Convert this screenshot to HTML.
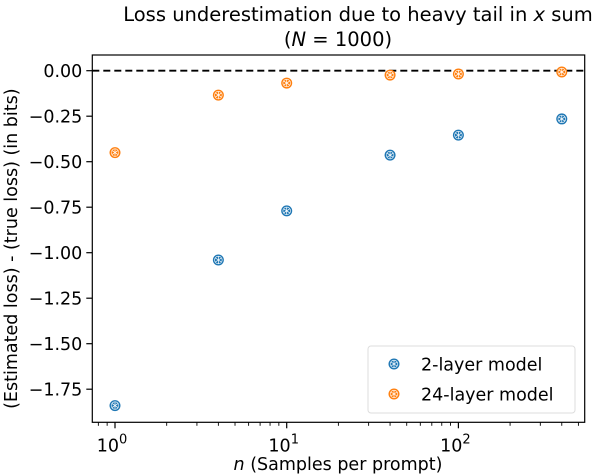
<!DOCTYPE html>
<html><head><meta charset="utf-8"><style>
body{margin:0;background:#fff;}
svg{display:block;font-family:"DejaVu Sans","Liberation Sans",sans-serif;}
</style></head><body>
<svg id="c" width="608" height="476"></svg>
<script>
const ns="http://www.w3.org/2000/svg";
const nVals=[1,4,10,40,100,400];
const twoLayer=[-1.84,-1.04,-0.77,-0.464,-0.354,-0.265];
const twentyFour=[-0.45,-0.134,-0.068,-0.024,-0.018,-0.007];
const yTicks=[0,-0.25,-0.5,-0.75,-1,-1.25,-1.5,-1.75];
const yTickLabels=["0.00","\u22120.25","\u22120.50","\u22120.75","\u22121.00","\u22121.25","\u22121.50","\u22121.75"];
const xDecades=[0,1,2];
const L=92.3,R=584.7,T=55,B=422.3;
function X(v){return 115+Math.log10(v)*171.7;}
function Y(v){return 70.7-v*182;}
const svg=document.getElementById('c');
function el(t,a,p){const e=document.createElementNS(ns,t);for(const k in a)e.setAttribute(k,a[k]);(p||svg).appendChild(e);return e;}
let t=el('text',{x:358,y:21,'text-anchor':'middle','font-size':19.5});
t.innerHTML='Loss underestimation due to heavy tail in <tspan font-style="italic">x</tspan> sum';


let t2=el('text',{x:338,y:46,'text-anchor':'middle','font-size':19.5});
t2.innerHTML='(<tspan font-style="italic">N</tspan> = 1000)';


let z=el('line',{x1:L,x2:R,y1:Y(0),y2:Y(0),stroke:'#000','stroke-width':1.8,'stroke-dasharray':'7,4'});


yTicks.forEach((v,i)=>{
 el('line',{x1:L-6,x2:L,y1:Y(v),y2:Y(v),stroke:'#000','stroke-width':1.2});
 const tx=el('text',{x:L-10,y:Y(v)+6.5,'text-anchor':'end','font-size':17.5});
 tx.textContent=yTickLabels[i];
 
 
});
for(let d=0;d<3;d++){for(let m=1;m<10;m++){const v=m*Math.pow(10,d);const x=X(v);if(x<L||x>R)continue;
 el('line',{x1:x,x2:x,y1:B,y2:B+(m===1?6:3.5),stroke:'#000','stroke-width':m===1?1.2:0.9});}}
[0.2,0.3,0.4,0.5,0.6,0.7,0.8,0.9].forEach(v=>{const x=X(v);if(x>=L)el('line',{x1:x,x2:x,y1:B,y2:B+3.5,stroke:'#000','stroke-width':0.9});});
xDecades.forEach(d=>{
 const tx=el('text',{x:X(Math.pow(10,d))-3,y:B+29,'text-anchor':'middle','font-size':17.5});
 tx.innerHTML='10<tspan dy="-8" font-size="13">'+d+'</tspan>';
 
 
});
let xl=el('text',{x:338,y:470,'text-anchor':'middle','font-size':17.5});
xl.innerHTML='<tspan font-style="italic">n</tspan> (Samples per prompt)';


let yl=el('text',{x:0,y:0,'text-anchor':'middle','font-size':17.5,transform:'translate(17,'+((T+B)/2+10)+') rotate(-90)'});
yl.textContent="(Estimated loss) - (true loss) (in bits)";


function mark(x,y,c,g){
 el('circle',{cx:x,cy:y,r:5.5,fill:c},g);
 el('path',{d:`M${x-3} ${y-2}L${x+3} ${y+2}M${x-3} ${y+2}L${x+3} ${y-2}M${x} ${y-3.5}L${x} ${y+3.5}`,stroke:'#fff','stroke-width':0.7},g);
 el('circle',{cx:x,cy:y,r:3.8,fill:'none',stroke:'#fff','stroke-width':0.6},g);
}
const series=[[twoLayer,'#1f77b4','two-layer'],[twentyFour,'#ff7f0e','twenty-four-layer']];
series.forEach(([vals,c,nm])=>{
 vals.forEach((v,i)=>{
  const g=el('g',{});
  
  
  mark(X(nVals[i]),Y(v),c,g);
 });
});
let box=el('rect',{x:L,y:T,width:R-L,height:B-T,fill:'none',stroke:'#000','stroke-width':1.2});


const lg=el('g',{});


el('rect',{x:368,y:346,width:207,height:67,rx:3,fill:'#fff','fill-opacity':0.8,stroke:'#ddd'},lg);
[['2-layer model','#1f77b4',364],['24-layer model','#ff7f0e',394]].forEach(([lab,c,y])=>{
 const g=el('g',{},lg);
 
 
 mark(394,y,c,g);
 const tx=el('text',{x:421,y:y+6.5,'font-size':17.5},g);tx.textContent=lab;
});
</script>
</body></html>
